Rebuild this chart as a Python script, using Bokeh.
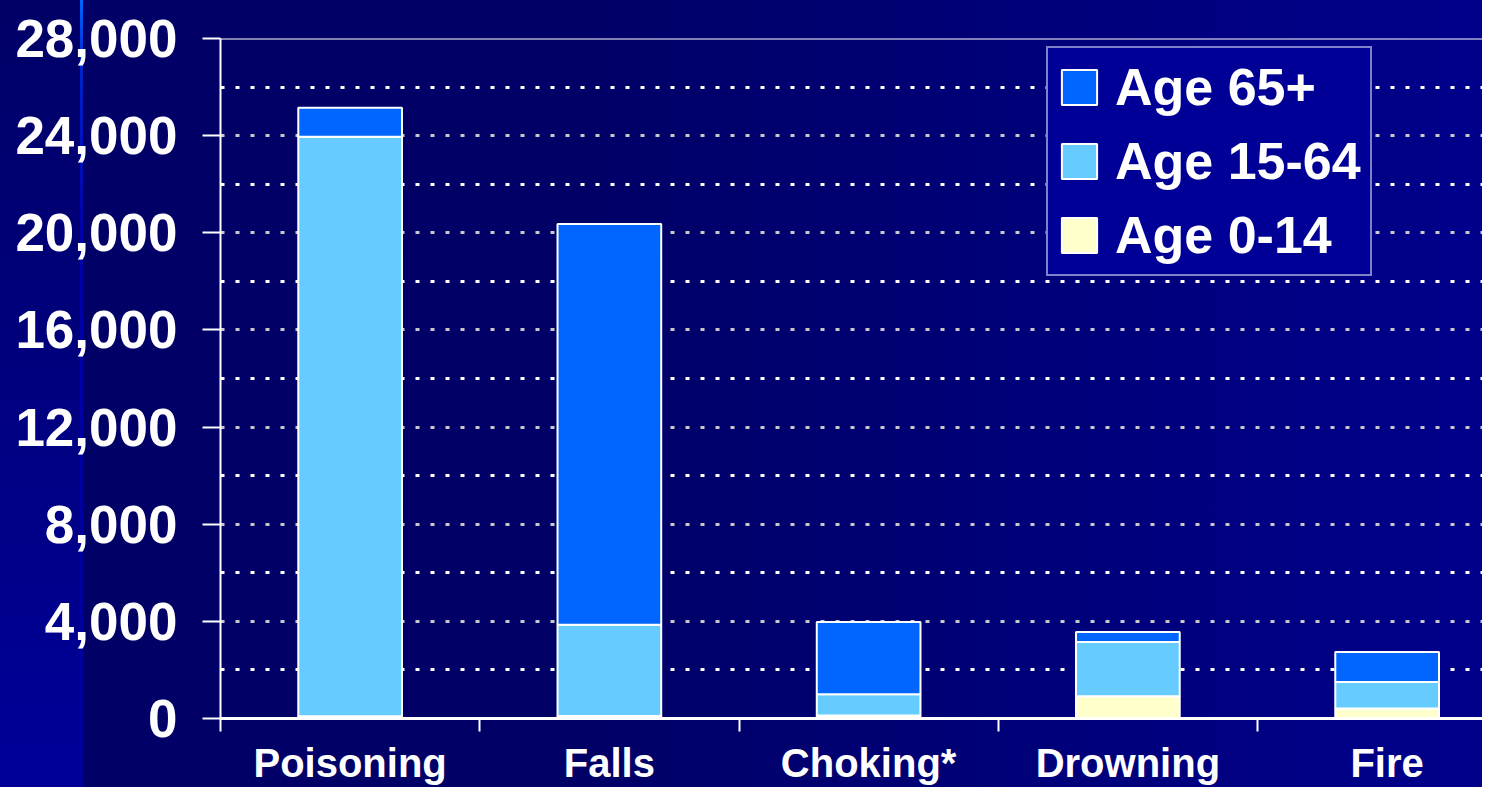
from bokeh.plotting import figure
from bokeh.models import (ColumnDataSource, FixedTicker, NumeralTickFormatter,
                          Legend, LegendItem, Span, Range1d)
from bokeh.embed import file_html
from bokeh.resources import INLINE

# ---- data ----
categories = ["Poisoning", "Falls", "Choking*", "Drowning", "Fire"]
age_0_14 = [90, 100, 120, 915, 410]
age_15_64 = [23860, 3760, 880, 2235, 1095]
age_65_plus = [1200, 16500, 2970, 410, 1235]
series_names = ["Age 0-14", "Age 15-64", "Age 65+"]
series_colors = ["#FFFFCC", "#66CCFF", "#0066FF"]
y_ticks = [0, 4000, 8000, 12000, 16000, 20000, 24000, 28000]
y_minor = [2000, 6000, 10000, 14000, 18000, 22000, 26000]
y_max = 28000

centers = [i + 0.5 for i in range(len(categories))]
bounds = [float(i) for i in range(len(categories) + 1)]

src = ColumnDataSource(dict(x=centers, a=age_0_14, b=age_15_64, c=age_65_plus))

FONT = "Liberation Sans"
W, H = 1482, 787
left, top, bottom = 220, 38, 67
frame_w = W - left
cat_px = 259.25

bg = ("linear-gradient(to bottom, #0066FF 0px, #0022CC 70px, #0000A8 240px, #000099 100%) 80px 0 / 3px 100% no-repeat, "
      "linear-gradient(to bottom, #000066 0%, #000099 100%) 0 0 / 80px 100% no-repeat, "
      "linear-gradient(to right, #000066 0%, #000066 38%, #00008B 100%)")

p = figure(width=W, height=H, output_backend="svg", toolbar_location=None,
           x_range=Range1d(0, frame_w / cat_px), y_range=Range1d(0, y_max),
           min_border_left=left, min_border_top=top, min_border_bottom=bottom,
           min_border_right=0, styles={"background": bg})
p.border_fill_color = None
p.background_fill_color = None
p.outline_line_color = None

rs = p.vbar_stack(["a", "b", "c"], x="x", width=0.4, source=src,
                  color=series_colors, line_color="white", line_width=2)
for r, c in zip(rs, series_colors):
    r.glyph.fill_color = c
    r.glyph.line_color = "white"

# y axis
ya = p.yaxis[0]
ya.ticker = FixedTicker(ticks=y_ticks, minor_ticks=y_minor)
ya.formatter = NumeralTickFormatter(format="0,0")
ya.axis_line_color = "white"
ya.axis_line_width = 2
ya.major_tick_line_color = "white"
ya.major_tick_line_width = 2
ya.major_tick_out = 18
ya.major_tick_in = 0
ya.minor_tick_line_color = None
ya.major_label_standoff = 25
ya.major_label_text_color = "white"
ya.major_label_text_font = FONT
ya.major_label_text_font_style = "bold"
ya.major_label_text_font_size = "53px"

# x axis
xa = p.xaxis[0]
xa.ticker = FixedTicker(ticks=centers, minor_ticks=bounds)
xa.major_label_overrides = {c: n for c, n in zip(centers, categories)}
xa.axis_line_color = "white"
xa.axis_line_width = 3
xa.major_tick_line_color = None
xa.major_tick_out = 13
xa.major_tick_in = 0
xa.minor_tick_line_color = "white"
xa.minor_tick_line_width = 2
xa.minor_tick_out = 13
xa.minor_tick_in = 0
xa.major_label_standoff = 9
xa.major_label_text_color = "white"
xa.major_label_text_font = FONT
xa.major_label_text_font_style = "bold"
xa.major_label_text_font_size = "40px"

# grid
p.xgrid.grid_line_color = None
g = p.ygrid[0]
g.grid_line_color = "#C8C8C8"
g.grid_line_width = 3
g.grid_line_dash = "4 11"
g.minor_grid_line_color = "white"
g.minor_grid_line_width = 3
g.minor_grid_line_dash = "4 11"

p.add_layout(Span(location=y_max, dimension="width", line_color="white", line_width=2))

legend = Legend(items=[LegendItem(label=n, renderers=[r])
                       for n, r in reversed(list(zip(series_names, rs)))],
                location=(826, 442), margin=0, padding=9, spacing=14,
                glyph_width=44, glyph_height=44, label_standoff=14,
                background_fill_color="#000096", background_fill_alpha=1,
                border_line_color="white", border_line_width=2.5,
                label_text_color="white", label_text_font=FONT,
                label_text_font_style="bold", label_text_font_size="52px")
p.add_layout(legend)

open("out.html", "w").write(file_html(p, INLINE))
